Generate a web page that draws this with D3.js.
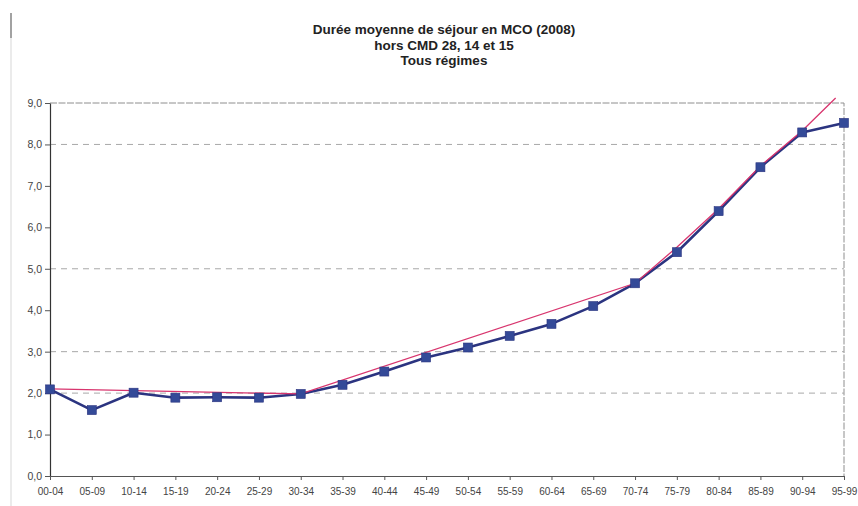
<!DOCTYPE html>
<html>
<head>
<meta charset="utf-8">
<script src="https://cdn.jsdelivr.net/npm/d3@7"></script>
<style>
  html, body { margin: 0; padding: 0; background: #fff; }
  svg { display: block; font-family: "Liberation Sans", Arial, sans-serif; }
</style>
</head>
<body>
<svg id="chart" width="858" height="506"></svg>
<script>
// Age groups (x categories)
const categories = ["00-04","05-09","10-14","15-19","20-24","25-29","30-34","35-39","40-44","45-49",
                    "50-54","55-59","60-64","65-69","70-74","75-79","80-84","85-89","90-94","95-99"];
// Average length of stay (days) per age group
const dms = [2.09, 1.59, 2.01, 1.89, 1.90, 1.89, 1.98, 2.20, 2.52, 2.86,
             3.10, 3.38, 3.67, 4.10, 4.65, 5.40, 6.39, 7.45, 8.29, 8.52];
// Trend curve knots: [category index, value]
const trendIdx = [0, 6, 14, 15, 16, 17, 18, 18.8];
const trendVal = [2.10, 1.98, 4.65, 5.52, 6.45, 7.48, 8.33, 9.12];
// Y axis ticks and the dashed gridlines that are shown
const yTicks = [0, 1, 2, 3, 4, 5, 6, 7, 8, 9];
const gridVals = [2, 3, 5, 8];
const titleLines = ["Durée moyenne de séjour en MCO (2008)", "hors CMD 28, 14 et 15", "Tous régimes"];

(function () {
const svg = d3.select("#chart");
const mLeft = 50, mRight = 844, mTop = 103, mBottom = 476;

const x = d3.scaleLinear().domain([0, categories.length - 1]).range([mLeft, mRight]);
const y = d3.scaleLinear().domain([0, 9]).range([mBottom, mTop]);

// faint page edge at the left
svg.append("line").attr("x1", 11).attr("x2", 11).attr("y1", 13).attr("y2", 506)
  .attr("stroke", "#e4e4e4").attr("stroke-width", 1.5);
svg.append("line").attr("x1", 11).attr("x2", 11).attr("y1", 13).attr("y2", 38)
  .attr("stroke", "#8a8a8a").attr("stroke-width", 1.5);

// title
svg.append("g").selectAll("text").data(titleLines).join("text")
  .attr("x", 444).attr("y", (d, i) => 34 + i * 15.5)
  .attr("text-anchor", "middle").attr("font-size", 13.5).attr("font-weight", "bold")
  .attr("fill", "#222").text(d => d);

// plot frame (top and right) dashed grey
svg.append("path")
  .attr("d", `M${mLeft},${mTop}H${mRight}V${mBottom}`)
  .attr("fill", "none").attr("stroke", "#8e8e8e").attr("stroke-width", 1)
  .attr("stroke-dasharray", "7,1.5");

// gridlines
svg.append("g").selectAll("line").data(gridVals).join("line")
  .attr("x1", mLeft).attr("x2", mRight)
  .attr("y1", d => y(d)).attr("y2", d => y(d))
  .attr("stroke", "#a8a8a8").attr("stroke-width", 1).attr("stroke-dasharray", "6,5");

// y axis
const yAxis = d3.axisLeft(y).tickValues(yTicks).tickSize(5).tickSizeOuter(0)
  .tickFormat(d => d3.format(".1f")(d).replace(".", ","));
const gy = svg.append("g").attr("transform", `translate(${mLeft},0)`).call(yAxis);
gy.select(".domain").attr("stroke", "#333").attr("stroke-width", 1.2);
gy.selectAll(".tick line").attr("stroke", "#555");
gy.selectAll(".tick text").attr("font-size", 10.5).attr("fill", "#444")
  .attr("font-family", "Liberation Sans, Arial, sans-serif").attr("x", -8);

// x axis
const xAxis = d3.axisBottom(x).tickValues(d3.range(categories.length)).tickSize(4).tickSizeOuter(0)
  .tickFormat(i => categories[i]);
const gx = svg.append("g").attr("transform", `translate(0,${mBottom})`).call(xAxis);
gx.select(".domain").attr("stroke", "#555").attr("stroke-width", 1);
gx.selectAll(".tick line").attr("stroke", "#555");
gx.selectAll(".tick text").attr("font-size", 10).attr("fill", "#444")
  .attr("font-family", "Liberation Sans, Arial, sans-serif").attr("dy", "0.75em").attr("y", 11);

// main series
const line = d3.line().x((d, i) => x(i)).y(d => y(d));
svg.append("path").datum(dms).attr("d", line)
  .attr("fill", "none").attr("stroke", "#2b3480").attr("stroke-width", 2.6)
  .attr("stroke-linejoin", "round");

// trend curve
const trend = trendIdx.map((t, i) => [t, trendVal[i]]);
svg.append("path").datum(trend)
  .attr("d", d3.line().x(d => x(d[0])).y(d => y(d[1])))
  .attr("fill", "none").attr("stroke", "#d8356e").attr("stroke-width", 1.3);

// markers
svg.append("g").selectAll("rect").data(dms).join("rect")
  .attr("x", (d, i) => x(i) - 4.5).attr("y", d => y(d) - 4.5)
  .attr("width", 9).attr("height", 9)
  .attr("fill", "#344a98").attr("stroke", "#2b3480").attr("stroke-width", 0.6);
})();
</script>
</body>
</html>
